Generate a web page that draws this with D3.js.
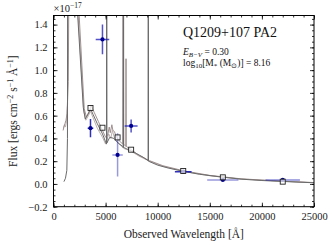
<!DOCTYPE html>
<html><head><meta charset="utf-8">
<script src="https://cdn.jsdelivr.net/npm/d3@7"></script>
<style>
body{margin:0;background:#fff}
text{font-family:"Liberation Serif",serif}
</style>
</head><body><script>

// model spectra (wavelength in A, flux in 1e-17 units)
var waveA = [1000,1150,1280,1340,1370,1450,2860,3050,3300,3550,3800,4200,4700,5000,5090,5100,5115,5125,5400,5800,6200,6650,6690,6700,6715,6725,7000,7450,8000,8600,9080,9090,9105,9115,10000,11000,12500,14000,16000,18000,20000,22000,25000];
var fluxA = [0.02,0.05,0.12,0.40,3.0,2.8,0.67,0.57,0.61,0.66,0.61,0.53,0.44,0.37,0.35,3.0,3.0,0.36,0.41,0.40,0.36,0.33,0.32,3.0,3.0,0.32,0.31,0.29,0.265,0.235,0.205,3.0,3.0,0.20,0.165,0.14,0.11,0.085,0.062,0.042,0.03,0.022,0.01];

var waveB = [920,1000,1100,1200,1300,1420,1560,1620,2950,3150,3400,3600,3900,4300,4700,5000,5200,5350,5450,5600,5700,5850,6000,6300,6650,6680,6700,6720,6740,6940,6955,6965,6980,7500,8200,9200,10500,12500,15000,18000,22000,25000];
var fluxB = [0.47,0.50,0.53,0.56,0.62,0.9,3.0,2.9,0.66,0.59,0.63,0.69,0.63,0.55,0.47,0.41,0.43,0.50,0.45,0.52,0.47,0.46,0.42,0.38,0.35,3.0,3.0,3.0,0.35,0.33,1.10,1.10,0.33,0.30,0.25,0.205,0.16,0.115,0.075,0.045,0.024,0.012];

var waveC = [950,1050,1150,1250,1350,1400,1500,2900,3100,3350,3550,3800,4200,4700,5000,5300,5500,5650,5800,6000,6400,6800,7400,8200,9200,10500,12500,15000,18000,22000,25000];
var fluxC = [0.49,0.52,0.50,0.55,0.7,3.0,2.85,0.64,0.56,0.60,0.64,0.58,0.49,0.41,0.35,0.44,0.40,0.47,0.42,0.38,0.34,0.31,0.29,0.245,0.20,0.155,0.11,0.072,0.043,0.023,0.011];

// photometry
var bandWave  = [3550, 4700, 6150, 7450, 12450, 16250, 22000];
var bandHalf  = [270, 650, 500, 620, 800, 1500, 1650];
var obsFlux   = [0.49, 1.27, 0.255, 0.51, 0.108, 0.035, 0.035];
var obsErr    = [0.08, 0.13, 0.19, 0.057, 0.008, 0.008, 0.008];
var modelFlux = [0.667, 0.494, 0.409, 0.301, 0.114, 0.058, 0.02];
var errOpacity = [0.9, 0.75, 0.45, 0.75, 0.9, 0.45, 0.5];

var xTicks = [0,5000,10000,15000,20000,25000];
var yTicks = [-0.2,0.0,0.2,0.4,0.6,0.8,1.0,1.2,1.4];

var width = 332, height = 247;
var m = {left:53.5, right:314, top:15.5, bottom:206.7};
var svg = d3.select('body').append('svg').attr('width', width).attr('height', height);

var x = d3.scaleLinear().domain([0,25000]).range([m.left, m.right]);
var y = d3.scaleLinear().domain([-0.2,1.48]).range([m.bottom, m.top]);

svg.append('clipPath').attr('id','clip').append('rect')
    .attr('x', m.left).attr('y', m.top).attr('width', m.right-m.left).attr('height', m.bottom-m.top);

var plot = svg.append('g').attr('clip-path','url(#clip)');

var line = d3.line().x(function(d){ return x(d[0]); }).y(function(d){ return y(d[1]); });
var specs = [
    {w:waveC, f:fluxC, c:'#bcb0b0'},
    {w:waveB, f:fluxB, c:'#a09090'},
    {w:waveA, f:fluxA, c:'#6a6a6a'}
];
specs.forEach(function(s){
    plot.append('path')
        .attr('fill','none')
        .attr('stroke', s.c)
        .attr('stroke-width', 1)
        .attr('d', line(d3.zip(s.w, s.f)));
});

// error bars
bandWave.forEach(function(w, i){
    var g = plot.append('g').attr('stroke','#1a1ab4').attr('stroke-opacity', errOpacity[i]).attr('stroke-width',1.5);
    g.append('line').attr('x1', x(w-bandHalf[i])).attr('x2', x(w+bandHalf[i]))
        .attr('y1', y(obsFlux[i])).attr('y2', y(obsFlux[i]));
    g.append('line').attr('x1', x(w)).attr('x2', x(w))
        .attr('y1', y(obsFlux[i]-obsErr[i])).attr('y2', y(obsFlux[i]+obsErr[i]));
});
plot.selectAll('circle.obs').data(bandWave).enter().append('circle')
    .attr('cx', function(d){ return x(d); })
    .attr('cy', function(d,i){ return y(obsFlux[i]); })
    .attr('r', 2.1).attr('fill','#000090');

plot.selectAll('rect.mod').data(bandWave).enter().append('rect')
    .attr('x', function(d){ return x(d)-2.5; })
    .attr('y', function(d,i){ return y(modelFlux[i])-2.5; })
    .attr('width',5).attr('height',5)
    .attr('fill','#fff').attr('fill-opacity',0.7)
    .attr('stroke','#222').attr('stroke-width',0.9);

// axes, ticks inside on all sides
function styleAxis(g){
    g.select('.domain').remove();
    g.selectAll('line').attr('stroke','#000').attr('stroke-width',0.8);
    g.selectAll('text').attr('font-family','"Liberation Serif", serif').attr('font-size',10.5).attr('fill','#222');
}
var xMinor = d3.range(0,25001,1000);
var yMinor = d3.range(-0.2,1.48,0.05);

svg.append('g').attr('transform','translate(0,'+m.bottom+')')
    .call(d3.axisBottom(x).tickValues(xMinor).tickSize(-2).tickFormat('')).call(styleAxis);
svg.append('g').attr('transform','translate(0,'+m.bottom+')')
    .call(d3.axisBottom(x).tickValues(xTicks).tickSize(-4).tickPadding(6).tickFormat(d3.format('d'))).call(styleAxis);
svg.append('g').attr('transform','translate(0,'+m.top+')')
    .call(d3.axisTop(x).tickValues(xMinor).tickSize(-2).tickFormat('')).call(styleAxis);
svg.append('g').attr('transform','translate(0,'+m.top+')')
    .call(d3.axisTop(x).tickValues(xTicks).tickSize(-4).tickFormat('')).call(styleAxis);

svg.append('g').attr('transform','translate('+m.left+',0)')
    .call(d3.axisLeft(y).tickValues(yMinor).tickSize(-2).tickFormat('')).call(styleAxis);
svg.append('g').attr('transform','translate('+m.left+',0)')
    .call(d3.axisLeft(y).tickValues(yTicks).tickSize(-4).tickPadding(6)
        .tickFormat(function(d){ return d3.format('.1f')(d).replace('-','\u2212'); })).call(styleAxis);
svg.append('g').attr('transform','translate('+m.right+',0)')
    .call(d3.axisRight(y).tickValues(yMinor).tickSize(-2).tickFormat('')).call(styleAxis);
svg.append('g').attr('transform','translate('+m.right+',0)')
    .call(d3.axisRight(y).tickValues(yTicks).tickSize(-4).tickFormat('')).call(styleAxis);

svg.append('rect').attr('x',m.left).attr('y',m.top)
    .attr('width',m.right-m.left).attr('height',m.bottom-m.top)
    .attr('fill','none').attr('stroke','#000').attr('stroke-width',1);

// labels
svg.append('text').attr('x',(m.left+m.right)/2).attr('y',238)
    .attr('text-anchor','middle').attr('font-size',11.5).attr('fill','#222')
    .text('Observed Wavelength [\u00c5]');

var yl = svg.append('text').attr('transform','translate(17,'+((m.top+m.bottom)/2)+') rotate(-90)')
    .attr('text-anchor','middle').attr('font-size',11.5).attr('fill','#222');
yl.append('tspan').text('Flux [ergs cm');
yl.append('tspan').attr('font-size',8).attr('dy',-4).text('\u22122');
yl.append('tspan').attr('dy',4).text(' s');
yl.append('tspan').attr('font-size',8).attr('dy',-4).text('\u22121');
yl.append('tspan').attr('dy',4).text(' \u00c5');
yl.append('tspan').attr('font-size',8).attr('dy',-4).text('\u22121');
yl.append('tspan').attr('dy',4).text(']');

var sc = svg.append('text').attr('x',m.left).attr('y',12).attr('font-size',10.5).attr('fill','#222');
sc.append('tspan').text('\u00d710');
sc.append('tspan').attr('font-size',7.5).attr('dy',-4).text('\u221217');

svg.append('text').attr('x',183).attr('y',37).attr('font-size',14).attr('fill','#111')
    .text('Q1209+107 PA2');

var eb = svg.append('text').attr('x',183).attr('y',55).attr('font-size',9.5).attr('fill','#111');
eb.append('tspan').attr('font-style','italic').text('E');
eb.append('tspan').attr('font-style','italic').attr('font-size',7).attr('dy',2).text('B\u2212V');
eb.append('tspan').attr('dy',-2).text(' = 0.30');

var lm = svg.append('text').attr('x',183).attr('y',66).attr('font-size',9.5).attr('fill','#111');
lm.append('tspan').text('log');
lm.append('tspan').attr('font-size',7).attr('dy',2).text('10');
lm.append('tspan').attr('dy',-2).text('[M');
lm.append('tspan').attr('font-size',7).attr('dy',2).text('*');
lm.append('tspan').attr('dy',-2).text(' (M');
lm.append('tspan').attr('font-size',7).attr('dy',2).text('\u2299');
lm.append('tspan').attr('dy',-2).text(')] = 8.16');

</script></body></html>
